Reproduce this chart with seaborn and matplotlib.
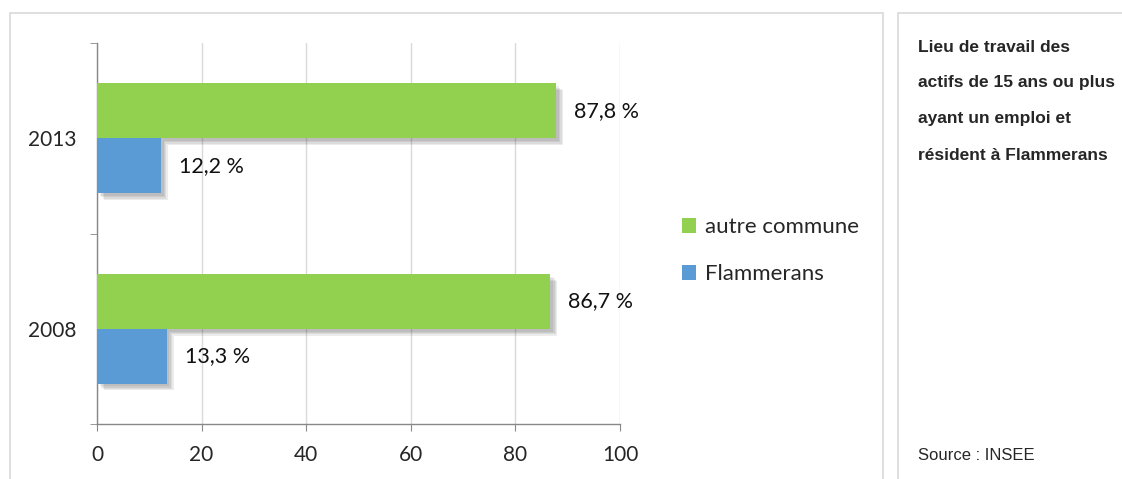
import pandas as pd
import matplotlib.pyplot as plt
import matplotlib.patheffects as pe
from matplotlib.patches import Rectangle
import seaborn as sns

# Données (INSEE) - lieu de travail des actifs de Flammerans
years = ["2013", "2008"]
autre_commune = [87.8, 86.7]
flammerans = [12.2, 13.3]
series = ["autre commune", "Flammerans"]
colors = ["#92D050", "#5B9BD5"]
x_ticks = [0, 20, 40, 60, 80, 100]

df = pd.DataFrame({
    "annee": years * 2,
    "valeur": autre_commune + flammerans,
    "lieu": [series[0]] * len(years) + [series[1]] * len(years),
})

sns.set_style("white")
plt.rcParams["font.family"] = ["Lato", "DejaVu Sans"]

fig = plt.figure(figsize=(11.22, 4.79), dpi=100)
ax = fig.add_axes([97 / 1122, 1 - 424 / 479, 523 / 1122, 381 / 479])

sns.barplot(data=df, x="valeur", y="annee", hue="lieu", order=years,
            hue_order=series, palette=colors, width=0.575, orient="h",
            saturation=1, linewidth=0, ax=ax, zorder=3)

# ombre portée floue sous les barres (plusieurs couches)
shadow = [pe.SimplePatchShadow(offset=(k, -k), alpha=0.09, shadow_rgbFace="#333333") for k in (5, 4, 3, 2)]
for bar in ax.patches:
    bar.set_path_effects(shadow + [pe.Normal()])

for cont in ax.containers:
    labels = [f"{b.get_width():.1f} %".replace(".", ",") for b in cont]
    ax.bar_label(cont, labels=labels, padding=13, fontsize=15.5, color="#111111")

ax.set_xlim(0, 100)
ax.set_ylim(1.5, -0.5)
ax.set_xticks(x_ticks)
ax.set_xlabel("")
ax.set_ylabel("")
ax.grid(axis="x", color="#D9D9D9", linewidth=1, zorder=0)
ax.set_axisbelow(True)
ax.tick_params(axis="x", labelsize=15, length=5, color="#888888", direction="out", bottom=True, pad=10)
ax.tick_params(axis="y", which="major", labelsize=15, length=0, pad=15)
ax.set_yticks([-0.5, 0.5, 1.5], minor=True)
ax.tick_params(axis="y", which="minor", length=5, color="#888888", left=True)
for s in ["top", "right"]:
    ax.spines[s].set_visible(False)
for s in ["left", "bottom"]:
    ax.spines[s].set_color("#888888")
    ax.spines[s].set_linewidth(1)

sns.move_legend(ax, loc="center left", bbox_to_anchor=(1.08, 0.455), frameon=False,
                title=None, fontsize=16, handlelength=0.65, handleheight=0.65,
                handletextpad=0.4, labelspacing=1.2)

# cadres gris des deux panneaux
fig.patches.append(Rectangle((10 / 1122, -0.05), 873 / 1122, 1.05 - 13 / 479, transform=fig.transFigure,
                             fill=False, edgecolor="#D9D9D9", linewidth=1.2))
fig.patches.append(Rectangle((898 / 1122, -0.05), 0.3, 1.05 - 13 / 479, transform=fig.transFigure,
                             fill=False, edgecolor="#D9D9D9", linewidth=1.2))

note = ["Lieu de travail des", "actifs de 15 ans ou plus", "ayant un emploi et", "résident à Flammerans"]
for i, line in enumerate(note):
    fig.text(918 / 1122, 1 - (47 + 36 * i) / 479, line, ha="left", va="center", fontsize=12.5,
             fontweight="bold", family=["Liberation Sans"])
fig.text(918 / 1122, 1 - 456 / 479, "Source : INSEE", ha="left", va="center", fontsize=12,
         family=["Liberation Sans"])

fig.savefig("out.png", dpi=100)
